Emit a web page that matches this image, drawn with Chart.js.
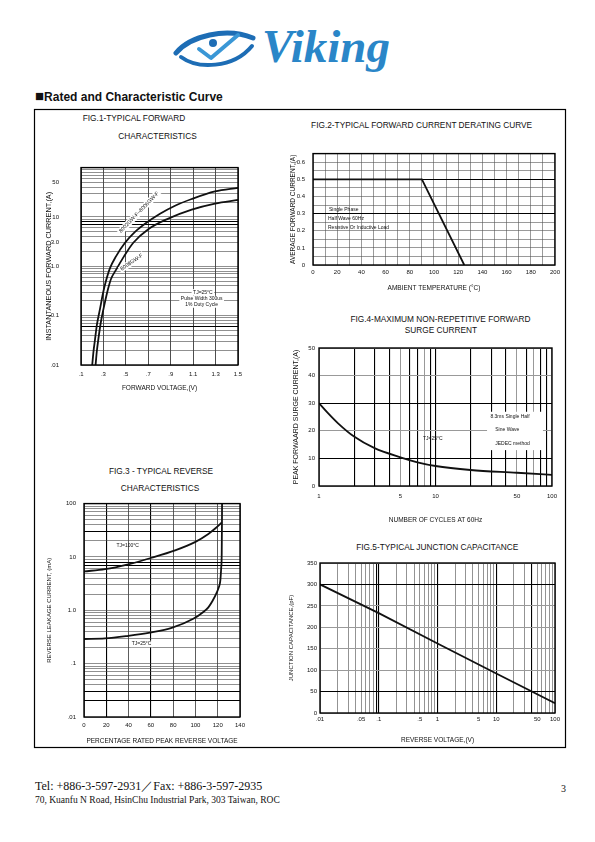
<!DOCTYPE html>
<html>
<head>
<meta charset="utf-8">
<script src="https://cdn.jsdelivr.net/npm/chart.js@4.4.1/dist/chart.umd.min.js"></script>
<style>
html, body { margin: 0; padding: 0; background: #fff; }
#page { position: relative; width: 595px; height: 842px; overflow: hidden; }
#page svg { position: absolute; left: 0; top: 0; z-index: 0; }
canvas { position: absolute; z-index: 1; }
</style>
</head>
<body>
<div id="page">
<svg width="595" height="842" font-family="'Liberation Sans', Arial, sans-serif" fill="#111">
  <!-- logo -->
  <path d="M176,53 C190,36 226,27 253,38" fill="none" stroke="#1d6db5" stroke-width="5" stroke-linecap="round"/>
  <path d="M181,57 C197,69 233,69 252,46" fill="none" stroke="#1d6db5" stroke-width="4" stroke-linecap="round"/>
  <path d="M199,49 L211,58 L238,35" fill="none" stroke="#3a97d6" stroke-width="4" stroke-linecap="round" stroke-linejoin="round"/>
  <circle cx="213" cy="43" r="4" fill="#1d6db5"/>
  <text x="262" y="61.5" font-family="'Liberation Serif', serif" font-size="47" font-weight="bold" font-style="italic" fill="#2a86c8">Viking</text>

  <text x="35" y="100.5" font-size="12" font-weight="bold"><tspan font-size="15">■</tspan>Rated and Characteristic Curve</text>
  <rect x="34.5" y="109.5" width="531" height="638" fill="none" stroke="#000" stroke-width="1.2"/>

  <g font-size="8.3" text-anchor="middle" dominant-baseline="central">
    <text x="134" y="118">FIG.1-TYPICAL FORWARD</text>
    <text x="157.5" y="135.7">CHARACTERISTICS</text>
    <text x="421.6" y="125">FIG.2-TYPICAL FORWARD CURRENT DERATING CURVE</text>
    <text x="440.5" y="319">FIG.4-MAXIMUM NON-REPETITIVE FORWARD</text>
    <text x="441" y="329.5">SURGE CURRENT</text>
    <text x="161" y="471">FIG.3 - TYPICAL REVERSE</text>
    <text x="160" y="488.3">CHARACTERISTICS</text>
    <text x="437.3" y="547.3">FIG.5-TYPICAL JUNCTION CAPACITANCE</text>
  </g>

  <g font-family="'Liberation Serif', 'Times New Roman', serif">
    <text x="35" y="790" font-size="12">Tel: +886-3-597-2931／Fax: +886-3-597-2935</text>
    <text x="35" y="803" font-size="9.5">70, Kuanfu N Road, HsinChu Industrial Park, 303 Taiwan, ROC</text>
    <text x="561" y="792" font-size="10">3</text>
  </g>
</svg>
<canvas id="fig1"></canvas>
<canvas id="fig2"></canvas>
<canvas id="fig3"></canvas>
<canvas id="fig4"></canvas>
<canvas id="fig5"></canvas>
</div>
<script>
// FIG.1 typical forward characteristics
const fwdVoltA = [0.200, 0.2115, 0.2248, 0.2427, 0.2694, 0.2962, 0.323, 0.3586, 0.4121, 0.4926, 0.5815, 0.6707, 0.8045, 0.9382, 1.087, 1.295, 1.500];
const fwdAmpA  = [0.01, 0.0188, 0.0327, 0.067, 0.137, 0.285, 0.508, 0.918, 1.59, 3.0, 4.98, 7.28, 11.6, 16.9, 23.1, 32.9, 39.0];
const fwdVoltB = [0.230, 0.2409, 0.2543, 0.2739, 0.3006, 0.3274, 0.3434, 0.3675, 0.4121, 0.4834, 0.5664, 0.7001, 0.8785, 1.0872, 1.2949, 1.500];
const fwdAmpB  = [0.01, 0.0188, 0.0327, 0.067, 0.137, 0.259, 0.363, 0.553, 0.845, 1.59, 3.0, 5.65, 9.27, 14.1, 18.7, 22.1];
const fwdVoltTicks = [0.1, 0.3, 0.5, 0.7, 0.9, 1.1, 1.3, 1.5];
const fwdVoltLabels = ['.1', '.3', '.5', '.7', '.9', '1.1', '1.3', '1.5'];
const fwdAmpTicks = [0.01, 0.1, 1, 3, 10, 50];
const fwdAmpLabels = ['.01', '0.1', '1.0', '3.0', '10', '50'];

// FIG.2 derating curve
const derateTemp = [0, 90, 125];
const derateAmp = [0.5, 0.5, 0];
const derateTempTicks = [0, 20, 40, 60, 80, 100, 120, 140, 160, 180, 200];
const derateAmpTicks = [0, 0.1, 0.2, 0.3, 0.4, 0.5, 0.6];

// FIG.3 reverse characteristics
const rev100Pct = [0, 18.85, 39.75, 60.75, 81.7, 99.6, 111.6, 118.0, 123.8];
const rev100mA  = [5.35, 5.9, 7.28, 9.66, 13.3, 19.0, 27.0, 34.5, 44.5];
const rev25Pct  = [0, 18.85, 39.75, 59.2, 78.7, 98.1, 106.8, 111.6, 115.3, 119.1, 120.8, 122.3, 123.1, 123.6, 123.8, 123.9];
const rev25mA   = [0.29, 0.297, 0.333, 0.383, 0.468, 0.692, 0.918, 1.135, 1.49, 2.14, 2.64, 3.55, 6.15, 11.6, 41.2, 100];
const revPctTicks = [0, 20, 40, 60, 80, 100, 120, 140];
const revmATicks = [0.01, 0.1, 1, 10, 100];
const revmALabels = ['.01', '.1', '1.0', '10', '100'];

// FIG.4 surge current
const surgeCycles = [1, 1.2, 1.45, 2, 3, 5, 7, 10, 20, 50, 100];
const surgeAmps   = [30, 26.3, 22.8, 17.9, 13.7, 10.4, 8.6, 7.25, 5.8, 4.8, 4.0];
const surgeCycleTicks = [1, 5, 10, 50, 100];
const surgeAmpTicks = [0, 10, 20, 30, 40, 50];

// FIG.5 junction capacitance
const capVolts = [0.01, 0.1, 1, 10, 100];
const capPf    = [300, 233, 162, 92, 23];
const capVoltTicks = [0.01, 0.05, 0.1, 0.5, 1, 5, 10, 50, 100];
const capVoltLabels = ['.01', '.05', '.1', '.5', '1', '5', '10', '50', '100'];
const capPfTicks = [0, 50, 100, 150, 200, 250, 300, 350];

const FONT = "'Liberation Sans', Arial, sans-serif";
Chart.defaults.font.family = FONT;
Chart.defaults.color = '#111';

const near = (a, b) => Math.abs(a - b) <= 1e-6 * Math.max(1e-3, Math.abs(a));
const pts = (xs, ys) => xs.map((x, i) => ({ x: x, y: ys[i] }));
function steps(lo, hi, st) { const o = []; for (let v = lo; v <= hi + st / 2; v += st) o.push(+v.toFixed(4)); return o; }
function logGrid(lo, hi) {
  const o = [];
  for (let d = lo; d < hi * 0.999; d *= 10) for (let k = 1; k <= 9; k++) o.push(+(k * d).toPrecision(6));
  o.push(hi);
  return o;
}

function notesPlugin(items) {
  return {
    id: 'notes',
    afterDatasetsDraw(chart) {
      const ctx = chart.ctx, a = chart.chartArea;
      const sx = chart.scales.x, sy = chart.scales.y;
      ctx.save();
      items.forEach(n => {
        if (n.box) {
          const x0 = sx.getPixelForValue(n.box[0]), x1 = sx.getPixelForValue(n.box[1]);
          const y0 = sy.getPixelForValue(n.box[2]), y1 = sy.getPixelForValue(n.box[3]);
          ctx.fillStyle = '#fff';
          ctx.fillRect(Math.min(x0, x1), Math.min(y0, y1), Math.abs(x1 - x0), Math.abs(y1 - y0));
          return;
        }
        const size = n.size || 5;
        ctx.save();
        ctx.translate(sx.getPixelForValue(n.x), sy.getPixelForValue(n.y));
        if (n.rot) ctx.rotate(n.rot * Math.PI / 180);
        ctx.font = size + 'px ' + FONT;
        ctx.textAlign = n.align || 'center';
        ctx.textBaseline = 'middle';
        if (n.bg) {
          const w = ctx.measureText(n.text).width;
          const x0 = ctx.textAlign === 'left' ? -1.5 : -w / 2 - 1.5;
          ctx.fillStyle = '#fff';
          ctx.fillRect(x0, -size * 0.65, w + 3, size * 1.3);
        }
        ctx.fillStyle = '#111';
        ctx.fillText(n.text, 0, 0);
        ctx.restore();
      });
      ctx.strokeStyle = '#000';
      ctx.lineWidth = 1.4;
      ctx.strokeRect(a.left, a.top, a.right - a.left, a.bottom - a.top);
      ctx.restore();
    }
  };
}

function axisCfg(s, axis, size) {
  const dark = s.dark || [];
  return {
    type: s.log ? 'logarithmic' : 'linear',
    min: s.min, max: s.max,
    afterBuildTicks: sc => { sc.ticks = s.grid.map(v => ({ value: v })); },
    afterFit: sc => { if (axis === 'x') sc.height = size; else sc.width = size; },
    ticks: {
      autoSkip: false, maxRotation: 0, minRotation: 0, padding: s.pad,
      font: { size: 6 }, color: '#111',
      callback: v => {
        const i = s.ticks.findIndex(t => near(t, v));
        return i < 0 ? '' : (s.labels ? s.labels[i] : String(s.ticks[i]));
      }
    },
    grid: {
      drawTicks: false,
      color: c => dark.some(d => near(d, c.tick.value)) ? '#000' : (s.minorColor || '#555'),
      lineWidth: c => dark.some(d => near(d, c.tick.value)) ? 1.1 : (s.minorWidth || 0.6)
    },
    border: { display: false },
    title: { display: true, text: s.title, font: { size: s.titleSize || 6.5 }, padding: 0, color: '#111' }
  };
}

function makeChart(id, box, plot, spec) {
  const cv = document.getElementById(id);
  cv.width = box.r - box.l;
  cv.height = box.b - box.t;
  cv.style.left = box.l + 'px';
  cv.style.top = box.t + 'px';
  return new Chart(cv, {
    type: 'scatter',
    data: {
      datasets: spec.series.map(d => ({
        data: d, showLine: true, borderColor: '#111', borderWidth: 1.8,
        pointRadius: 0, fill: false,
        cubicInterpolationMode: spec.smooth ? 'monotone' : 'default', tension: 0
      }))
    },
    options: {
      responsive: false, animation: false, events: [],
      layout: { padding: { top: plot.t - box.t, right: box.r - plot.r, left: 0, bottom: 0 } },
      plugins: { legend: { display: false }, tooltip: { enabled: false } },
      scales: {
        x: axisCfg(spec.x, 'x', box.b - plot.b),
        y: axisCfg(spec.y, 'y', plot.l - box.l)
      }
    },
    plugins: [notesPlugin(spec.notes || [])]
  });
}

makeChart('fig1', { l: 45, t: 142, r: 250, b: 392 }, { l: 81, t: 147, r: 238, b: 365 }, {
  smooth: true,
  series: [pts(fwdVoltA, fwdAmpA), pts(fwdVoltB, fwdAmpB)],
  x: { min: 0.1, max: 1.5, grid: fwdVoltTicks, ticks: fwdVoltTicks, labels: fwdVoltLabels, pad: 6,
       title: 'FORWARD VOLTAGE,(V)', minorColor: '#222', minorWidth: 0.8 },
  y: { log: true, min: 0.01, max: 100, grid: logGrid(0.01, 100), ticks: fwdAmpTicks, labels: fwdAmpLabels,
       pad: 22, dark: [0.06, 7, 8], title: 'INSTANTANEOUS FORWARD CURRENT,(A)', titleSize: 7.3, minorColor: '#444' },
  notes: [
    { x: 0.617, y: 12.4, text: '8002GW-F~8006GW-F', rot: -46, size: 5.3, bg: true },
    { x: 0.552, y: 1.21, text: '8008GW-F', rot: -34, size: 5.3, bg: true },
    { x: 1.187, y: 0.296, text: 'TJ=25°C', size: 5, bg: true },
    { x: 1.176, y: 0.217, text: 'Pulse Width 300us', size: 5, bg: true },
    { x: 1.176, y: 0.168, text: '1% Duty Cycle', size: 5, bg: true }
  ]
});

makeChart('fig2', { l: 289, t: 142, r: 564, b: 292 }, { l: 313, t: 147, r: 555, b: 265 }, {
  series: [pts(derateTemp, derateAmp)],
  x: { min: 0, max: 200, grid: steps(0, 200, 10), ticks: derateTempTicks, pad: 4,
       title: 'AMBIENT TEMPERATURE (°C)' },
  y: { min: 0, max: 0.65, grid: steps(0, 0.65, 0.05), ticks: derateAmpTicks, pad: 8, dark: [0.3, 0.5],
       title: 'AVERAGE FORWARD CURRENT,(A)' },
  notes: [
    { x: 13.2, y: 0.326, text: 'Single Phase', align: 'left' },
    { x: 12.4, y: 0.27, text: 'Half Wave 60Hz', align: 'left' },
    { x: 12.4, y: 0.218, text: 'Resistive Or Inductive Load', align: 'left' }
  ]
});

makeChart('fig4', { l: 292, t: 340, r: 564, b: 524 }, { l: 319, t: 348, r: 556, b: 486 }, {
  smooth: true,
  series: [pts(surgeCycles, surgeAmps)],
  x: { log: true, min: 1, max: 100, grid: logGrid(1, 100), ticks: surgeCycleTicks, pad: 7,
       dark: [2, 3, 4, 6, 7, 9, 10, 20, 30, 40, 60, 80, 90], minorColor: '#999', minorWidth: 1,
       title: 'NUMBER OF CYCLES AT 60Hz' },
  y: { min: 0, max: 50, grid: surgeAmpTicks, ticks: surgeAmpTicks, pad: 4, dark: [10, 30],
       minorColor: '#999', minorWidth: 1, title: 'PEAK FORWAARD SURGE CURRENT,(A)', titleSize: 7 },
  notes: [
    { box: [27.7, 83.6, 13, 26.9] },
    { x: 7.8, y: 17.2, text: 'TJ=25°C', align: 'left' },
    { x: 29.6, y: 25.1, text: '8.3ms Single Half', align: 'left' },
    { x: 32.6, y: 20.3, text: 'Sine Wave', align: 'left' },
    { x: 32.6, y: 15.4, text: 'JEDEC method', align: 'left' }
  ]
});

makeChart('fig3', { l: 46, t: 492, r: 252, b: 745 }, { l: 84, t: 499, r: 240, b: 717 }, {
  smooth: true,
  series: [pts(rev100Pct, rev100mA), pts(rev25Pct, rev25mA)],
  x: { min: 0, max: 140, grid: revPctTicks, ticks: revPctTicks, pad: 5, dark: [20, 60], minorColor: '#333',
       minorWidth: 0.8, title: 'PERCENTAGE RATED PEAK REVERSE VOLTAGE' },
  y: { log: true, min: 0.01, max: 100, grid: logGrid(0.01, 100), ticks: revmATicks, labels: revmALabels,
       pad: 8, dark: [0.02, 0.03, 7, 8, 30], minorColor: '#444', title: 'REVERSE LEAKAGE CURRENT, (mA)', titleSize: 6 },
  notes: [
    { x: 29.2, y: 16.3, text: 'TJ=100°C', align: 'left' },
    { x: 51.7, y: 0.234, text: 'TJ=25°C', bg: true }
  ]
});

makeChart('fig5', { l: 288, t: 555, r: 564, b: 744 }, { l: 320, t: 563, r: 555, b: 713 }, {
  series: [pts(capVolts, capPf)],
  x: { log: true, min: 0.01, max: 100, grid: logGrid(0.01, 100), ticks: capVoltTicks, labels: capVoltLabels,
       pad: 3, dark: [0.09, 0.1, 1, 10, 40], minorColor: '#777', minorWidth: 0.8, title: 'REVERSE VOLTAGE,(V)' },
  y: { min: 0, max: 350, grid: capPfTicks, ticks: capPfTicks, pad: 3, dark: [50, 300], minorColor: '#999',
       minorWidth: 1, title: 'JUNCTION CAPACITANCE,(pF)', titleSize: 6 }
});
</script>
</body>
</html>
